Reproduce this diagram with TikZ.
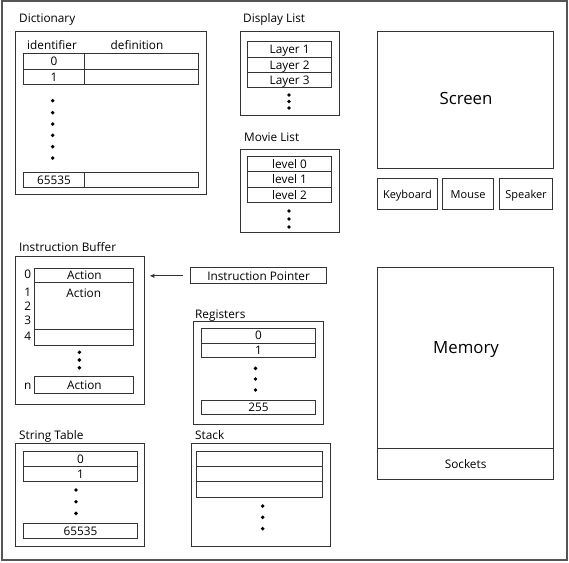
\documentclass[tikz,border=0pt]{standalone}
\usepackage{fontspec}
\setmainfont{Open Sans}
\usetikzlibrary{arrows.meta}
\definecolor{linec}{HTML}{333333}
\definecolor{framec}{HTML}{555555}
\newcommand{\lbfont}{\fontsize{11.8}{14}\selectfont}
\newcommand{\devfont}{\fontsize{11}{13}\selectfont}
\newcommand{\bigfont}{\fontsize{16.8}{20}\selectfont}
\tikzset{
  box/.style={draw=linec, line width=1.15pt, rectangle, inner sep=0pt, anchor=north west},
  cell/.style={draw=linec, line width=1.15pt, rectangle, inner sep=0pt, anchor=north west,
    font=\lbfont, text height=8.4pt, text depth=0pt},
  devcell/.style={cell, font=\devfont, text height=8pt},
  ttl/.style={anchor=base west, inner sep=0pt, font=\lbfont},
  txt/.style={anchor=base, inner sep=0pt, font=\lbfont},
  bigtxt/.style={anchor=center, inner sep=0pt, font=\bigfont},
  dotn/.style={circle, fill=black, draw=none, inner sep=0pt, minimum size=3.9pt},
}
\begin{document}
\begin{tikzpicture}[x=1pt,y=-1pt]
\useasboundingbox (0,0) rectangle (569,562);
\draw[framec, line width=1.6pt] (2,0.8) rectangle (567,560);

% Dictionary
\node[ttl] (dictT) at (19,22.7) {Dictionary};
\node[box, minimum width=191pt, minimum height=163pt] (dict) at (15,31) {};
\node[txt] (dictH1) at (52,49.5) {identifier};
\node[txt] (dictH2) at (137,49.5) {definition};
\node[cell, minimum width=61pt, minimum height=16pt] (d0a) at (23,53) {0};
\node[cell, minimum width=114pt, minimum height=16pt] (d0b) at (84,53) {};
\node[cell, minimum width=61pt, minimum height=15pt] (d1a) at (23,69) {1};
\node[cell, minimum width=114pt, minimum height=15pt] (d1b) at (84,69) {};
\foreach \yy [count=\i] in {100.7,112.7,124,135.3,146.7,158}
  \node[dotn] (dd\i) at (52.7,\yy) {};
\node[cell, minimum width=61pt, minimum height=15pt] (dna) at (23,172) {65535};
\node[cell, minimum width=114pt, minimum height=15pt] (dnb) at (84,172) {};

% Display List
\node[ttl] (dispT) at (243,22.7) {Display List};
\node[box, minimum width=99pt, minimum height=84pt] (disp) at (240,31) {};
\node[cell, minimum width=84pt, minimum height=16pt] (l1) at (247,41) {Layer 1};
\node[cell, minimum width=84pt, minimum height=15pt] (l2) at (247,57) {Layer 2};
\node[cell, minimum width=84pt, minimum height=15pt] (l3) at (247,72) {Layer 3};
\foreach \yy [count=\i] in {95,101.5,108}
  \node[dotn] (dl\i) at (289,\yy) {};

% Movie List
\node[ttl] (movT) at (244,141) {Movie List};
\node[box, minimum width=99pt, minimum height=83pt] (mov) at (240,149) {};
\node[cell, minimum width=84pt, minimum height=15pt] (v0) at (247,156) {level 0};
\node[cell, minimum width=84pt, minimum height=16pt] (v1) at (247,171) {level 1};
\node[cell, minimum width=84pt, minimum height=15pt] (v2) at (247,187) {level 2};
\foreach \yy [count=\i] in {211,219,227}
  \node[dotn] (dm\i) at (289,\yy) {};

% Screen and devices
\node[box, minimum width=176pt, minimum height=137pt] (screen) at (377,31) {};
\node[bigtxt] (screenT) at (466,98) {Screen};
\node[devcell, minimum width=60pt, minimum height=31pt] (kbd) at (377,178) {Keyboard};
\node[devcell, minimum width=51pt, minimum height=31pt] (mouse) at (442,178) {Mouse};
\node[devcell, minimum width=53pt, minimum height=31pt] (spk) at (499,178) {Speaker};

% Memory
\node[box, minimum width=176pt, minimum height=212pt] (mem) at (377,267) {};
\node[bigtxt] (memT) at (466,350) {Memory};
\node[cell, minimum width=176pt, minimum height=31.5pt] (sock) at (377,447.5) {Sockets};

% Instruction Buffer
\node[ttl] (ibT) at (19,251.4) {Instruction Buffer};
\node[box, minimum width=129.3pt, minimum height=148.3pt] (ib) at (15,256) {};
\node[cell, minimum width=99pt, minimum height=14.6pt] (a0) at (34.3,267.7) {Action};
\node[cell, minimum width=99pt, minimum height=46.4pt] (a1) at (34.3,282.3) {};
\node[txt] (a1T) at (83.8,297.5) {Action};
\node[cell, minimum width=99pt, minimum height=16.3pt] (a4) at (34.3,328.7) {};
\node[cell, minimum width=99pt, minimum height=17.6pt] (an) at (34.3,375.7) {Action};
\node[txt] (n0) at (27.7,278.3) {0};
\node[txt] (n1) at (27.7,296.3) {1};
\node[txt] (n2) at (27.7,310.3) {2};
\node[txt] (n3) at (27.7,324.3) {3};
\node[txt] (n4) at (27.7,340.3) {4};
\node[txt] (nn) at (27.7,389) {n};
\foreach \yy [count=\i] in {352.3,360,367.7}
  \node[dotn] (di\i) at (79.4,\yy) {};

% Instruction Pointer
\node[cell, minimum width=136pt, minimum height=16pt] (ip) at (190,267.3) {Instruction Pointer};
\draw[linec, line width=1pt, -{Latex[length=5pt,width=4.5pt]}, shorten <=7pt, shorten >=4pt]
  (ip.west) -- (ip.west -| ib.east);

% Registers
\node[ttl] (regT) at (195,318.4) {Registers};
\node[box, minimum width=130pt, minimum height=103.3pt] (reg) at (192.7,320.7) {};
\node[cell, minimum width=114.3pt, minimum height=15pt] (r0) at (200.7,327.7) {0};
\node[cell, minimum width=114.3pt, minimum height=14.6pt] (r1) at (200.7,342.7) {1};
\foreach \yy [count=\i] in {368.3,379,390}
  \node[dotn] (dr\i) at (255.5,\yy) {};
\node[cell, minimum width=114.3pt, minimum height=14.3pt] (rn) at (200.7,400) {255};

% String Table
\node[ttl] (strT) at (19,439.4) {String Table};
\node[box, minimum width=129.3pt, minimum height=103.3pt] (str) at (15,442.7) {};
\node[cell, minimum width=114.3pt, minimum height=15.3pt] (s0) at (22.7,450.7) {0};
\node[cell, minimum width=114.3pt, minimum height=15pt] (s1) at (22.7,466) {1};
\foreach \yy [count=\i] in {490,501.7,513.3}
  \node[dotn] (ds\i) at (76,\yy) {};
\node[cell, minimum width=114.3pt, minimum height=14.4pt] (sn) at (22.7,523.3) {65535};

% Stack
\node[ttl] (stkT) at (195,439.4) {Stack};
\node[box, minimum width=139pt, minimum height=103.3pt] (stk) at (190.7,442.7) {};
\node[cell, minimum width=126pt, minimum height=15pt] (k0) at (195.7,450.7) {};
\node[cell, minimum width=126pt, minimum height=15.3pt] (k1) at (195.7,465.7) {};
\node[cell, minimum width=126pt, minimum height=16.3pt] (k2) at (195.7,481) {};
\foreach \yy [count=\i] in {506,517.3,528.7}
  \node[dotn] (dk\i) at (262.7,\yy) {};
\end{tikzpicture}
\end{document}
